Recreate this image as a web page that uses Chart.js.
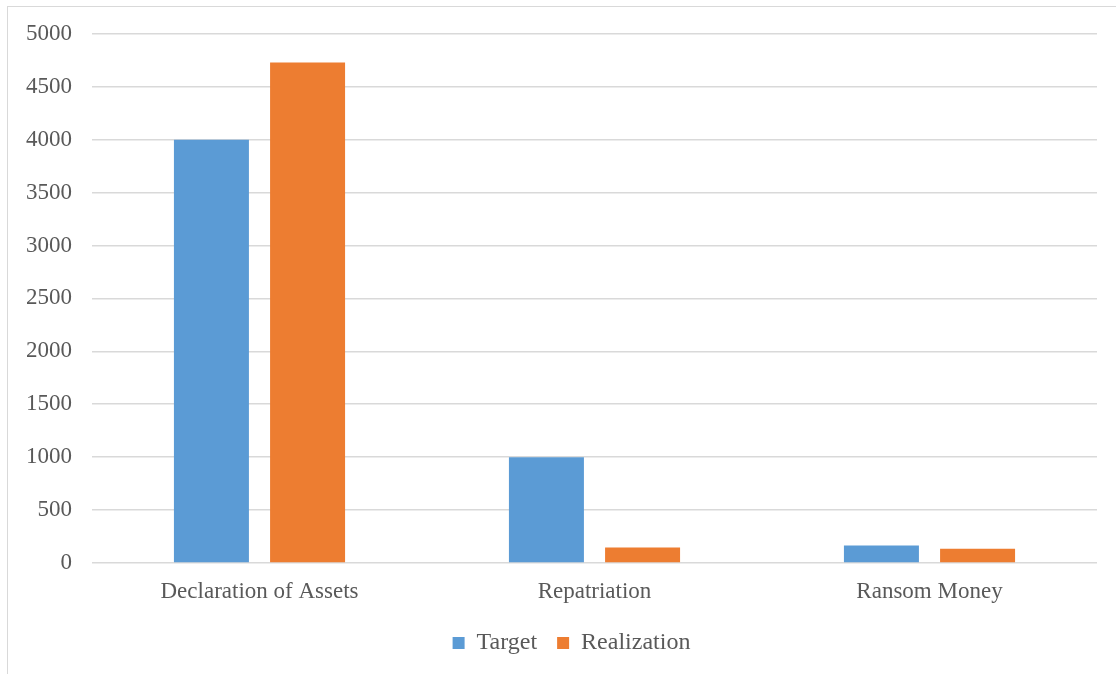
<!DOCTYPE html>
<html>
<head>
<meta charset="utf-8">
<script src="https://cdn.jsdelivr.net/npm/chart.js@4"></script>
<style>
  html, body { margin: 0; padding: 0; background: #fff; overflow: hidden; }
  .frame {
    position: absolute; left: 7px; top: 6px; width: 1120px; height: 680px;
    border-left: 1.5px solid #d9d9d9; border-top: 1.5px solid #d9d9d9;
  }
  .wrap { position: absolute; left: 0; top: 0; width: 1116px; height: 674px; }
</style>
</head>
<body>
<div class="frame"></div>
<div class="wrap"><canvas class="js-chart" width="1116" height="674"></canvas></div>
<script>
const categories = ["Declaration of Assets", "Repatriation", "Ransom Money"];
const target = [4000, 1000, 165];
const realization = [4730, 147, 135];
const yTicks = [0, 500, 1000, 1500, 2000, 2500, 3000, 3500, 4000, 4500, 5000];

const ctx = document.querySelector(".js-chart").getContext("2d");
const FONT = { family: "'Liberation Serif', 'Times New Roman', serif", size: 23 };

// nudge the legend right so it sits centred under the plot like the original
const legendShift = {
  id: "legendShift",
  afterLayout(chart) {
    chart.legend.left += 23;
    chart.legend.right += 23;
  },
};

new Chart(ctx, {
  type: "bar",
  data: {
    labels: categories,
    datasets: [
      {
        label: "Target",
        data: target,
        backgroundColor: "#5b9bd5",
        categoryPercentage: 0.574,
        barPercentage: 0.78,
      },
      {
        label: "Realization",
        data: realization,
        backgroundColor: "#ed7d31",
        categoryPercentage: 0.574,
        barPercentage: 0.78,
      },
    ],
  },
  plugins: [legendShift],
  options: {
    responsive: false,
    animation: false,
    layout: { padding: { left: 0, right: 19, top: 29, bottom: 9 } },
    plugins: {
      tooltip: { enabled: false },
      legend: {
        position: "bottom",
        labels: {
          font: { family: FONT.family, size: 24 },
          color: "#595959",
          boxWidth: 12,
          boxHeight: 12,
          padding: 20,
        },
      },
    },
    scales: {
      x: {
        grid: { display: false },
        border: { display: false },
        ticks: { font: FONT, color: "#595959", padding: 7 },
        afterFit(scale) {
          scale.height = 48;
        },
      },
      y: {
        min: 0,
        max: 5000,
        afterBuildTicks(scale) {
          scale.ticks = yTicks.map((v) => ({ value: v }));
        },
        grid: { color: "#d9d9d9", lineWidth: 1.5, drawTicks: false },
        border: { display: false },
        ticks: {
          font: FONT,
          color: "#595959",
          padding: 20,
          callback(value) {
            return String(value);
          },
        },
        afterFit(scale) {
          scale.width = 92;
        },
      },
    },
  },
});
</script>
</body>
</html>
